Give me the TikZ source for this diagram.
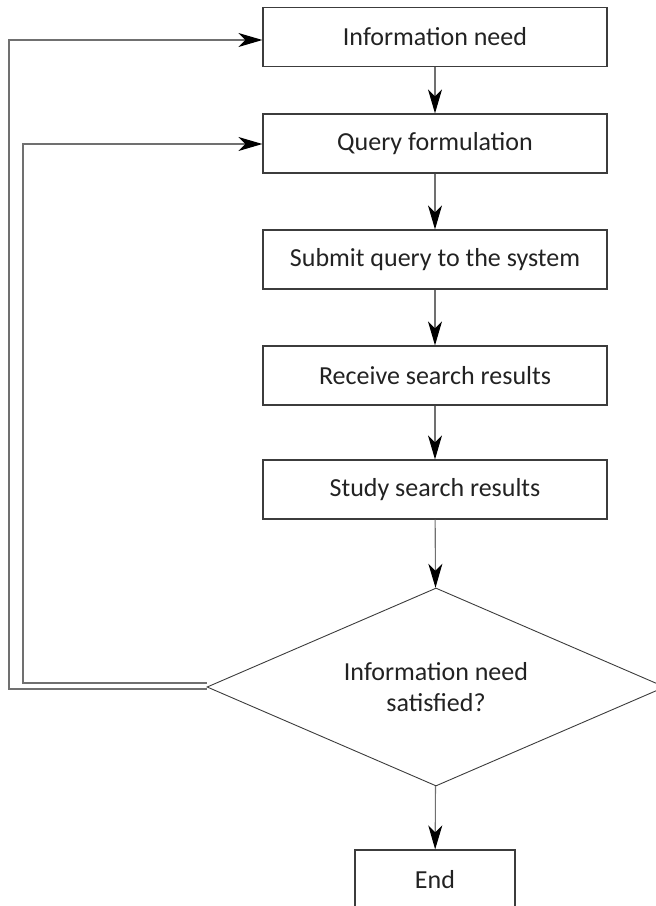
\documentclass[tikz,border=0pt]{standalone}
\usepackage{fontspec}
\setmainfont{Carlito}
\usetikzlibrary{arrows.meta,shapes.geometric}
\definecolor{boxline}{HTML}{3C3C3C}
\definecolor{linkline}{HTML}{707070}
\definecolor{txt}{HTML}{222222}
\tikzset{
  stepbox/.style={draw=boxline, line width=1.2pt, rectangle, minimum width=344pt, minimum height=59pt, inner sep=0pt, text=txt, font=\fontsize{26}{30}\selectfont},
  endbox/.style={stepbox, minimum width=160pt},
  decision/.style={draw=boxline, line width=0.9pt, diamond, aspect=2.31, minimum width=458pt, minimum height=198pt, inner sep=0pt, text=txt, align=center, font=\fontsize{26}{31}\selectfont},
  flow/.style={draw=linkline, line width=1.1pt, -{Stealth[length=24pt,width=14pt,inset=7pt,color=black]}},
  loopline/.style={flow}
}
\begin{document}
\begin{tikzpicture}[x=1pt,y=-1pt]
\useasboundingbox (0,0) rectangle (656,906);
\clip (0,0) rectangle (656,906);
\node[stepbox] (need) at (435,37) {Information need};
\node[stepbox] (query) at (435,143.5) {Query formulation};
\node[stepbox] (submit) at (435,259.5) {Submit query to the system};
\node[stepbox] (receive) at (435,375.5) {Receive search results};
\node[stepbox] (study) at (435,489.5) {Study search results};
\node[decision] (sat) at (436,687) {Information need\\satisfied?};
\node[endbox] (end) at (435,879.5) {End};
\coordinate (o1) at (9,689);
\coordinate (o2) at (9,40);
\coordinate (i1) at (23,683);
\coordinate (i2) at (23,144);
\draw[flow] (need) -- (query);
\draw[flow] (query) -- (submit);
\draw[flow] (submit) -- (receive);
\draw[flow] (receive) -- (study);
\draw[flow] (study) -- (sat);
\draw[flow] (sat) -- (end);
\draw[loopline] ([yshift=-2pt]sat.west) -- (o1) -- (o2) -- (need.west |- o2);
\draw[loopline] ([yshift=4pt]sat.west) -- (i1) -- (i2) -- (query.west |- i2);
\end{tikzpicture}
\end{document}
